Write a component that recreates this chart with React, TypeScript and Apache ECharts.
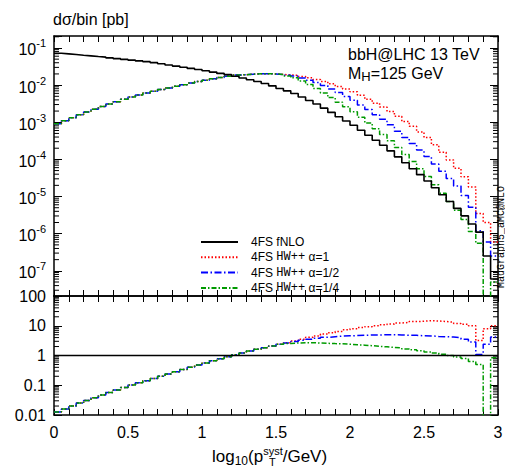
import React, { useEffect, useRef } from "react";
import * as echarts from "echarts";

const FONT = '"Liberation Sans", Arial, Helvetica, sans-serif';
const MONO = '"Liberation Mono", "DejaVu Sans Mono", monospace';

// bin edges in log10(pT/GeV)
const binEdges = [
  0, 0.05, 0.1, 0.15, 0.2, 0.25, 0.3, 0.35, 0.4, 0.45, 0.5, 0.55, 0.6, 0.65, 0.7, 0.75, 0.8, 0.85, 0.9, 0.95,
  1, 1.05, 1.1, 1.15, 1.2, 1.25, 1.3, 1.35, 1.4, 1.45, 1.5, 1.55, 1.6, 1.65, 1.7, 1.75, 1.8, 1.85, 1.9, 1.95,
  2, 2.05, 2.1, 2.15, 2.2, 2.25, 2.3, 2.35, 2.4, 2.45, 2.5, 2.55, 2.6, 2.65, 2.7, 2.75, 2.8, 2.85, 2.9, 2.95, 3,
];

const seriesNames = ["4FS fNLO", "4FS HW++ α=1", "4FS HW++ α=1/2", "4FS HW++ α=1/4"];

const fNLO = [
  0.0719, 0.0692, 0.0665, 0.0638, 0.0614, 0.059, 0.0568, 0.0542, 0.0516, 0.0493,
  0.047, 0.0449, 0.0428, 0.0403, 0.0375, 0.0349, 0.0325, 0.0303, 0.0282, 0.0262,
  0.0243, 0.0224, 0.0207, 0.0191, 0.0174, 0.0156, 0.014, 0.0125, 0.011, 0.00955,
  0.00813, 0.007, 0.00596, 0.00479, 0.00385, 0.00309, 0.0024, 0.00184, 0.00141, 0.00108,
  8.32e-4, 6.1e-4, 4.47e-4, 3.27e-4, 2.4e-4, 1.7e-4, 1.17e-4, 8.13e-5, 5.62e-5, 3.89e-5,
  2.63e-5, 1.72e-5, 1.12e-5, 7.33e-6, 4.79e-6, 3.02e-6, 1.82e-6, 1.1e-6, 2.5e-7, 6.0e-8,
];

const hwA1 = [
  9.06e-4, 1.1e-3, 1.33e-3, 1.6e-3, 1.9e-3, 2.24e-3, 2.65e-3, 3.08e-3, 3.57e-3, 4.15e-3,
  4.75e-3, 5.4e-3, 6.11e-3, 6.84e-3, 7.57e-3, 8.38e-3, 9.27e-3, 1.03e-2, 1.14e-2, 1.26e-2,
  1.36e-2, 1.48e-2, 1.6e-2, 1.74e-2, 1.86e-2, 1.91e-2, 1.97e-2, 2.03e-2, 2.02e-2, 2.0e-2,
  1.93e-2, 1.88e-2, 1.84e-2, 1.7e-2, 1.57e-2, 1.41e-2, 1.26e-2, 1.08e-2, 9.12e-3, 7.85e-3,
  6.61e-3, 5.31e-3, 4.17e-3, 3.27e-3, 2.57e-3, 1.95e-3, 1.45e-3, 1.05e-3, 7.76e-4, 5.5e-4,
  3.89e-4, 2.48e-4, 1.55e-4, 9.66e-5, 5.75e-5, 3.39e-5, 1.82e-5, 3.5e-6, 2.0e-6, 6.0e-7,
];

const hwA12 = [
  9.06e-4, 1.1e-3, 1.33e-3, 1.6e-3, 1.9e-3, 2.24e-3, 2.65e-3, 3.08e-3, 3.57e-3, 4.15e-3,
  4.75e-3, 5.4e-3, 6.11e-3, 6.84e-3, 7.57e-3, 8.38e-3, 9.27e-3, 1.03e-2, 1.14e-2, 1.26e-2,
  1.36e-2, 1.48e-2, 1.6e-2, 1.74e-2, 1.86e-2, 1.91e-2, 1.97e-2, 2.03e-2, 2.02e-2, 2.0e-2,
  1.93e-2, 1.84e-2, 1.76e-2, 1.55e-2, 1.36e-2, 1.17e-2, 9.77e-3, 7.85e-3, 6.31e-3, 4.95e-3,
  3.89e-3, 2.92e-3, 2.19e-3, 1.6e-3, 1.2e-3, 8.51e-4, 5.75e-4, 3.89e-4, 2.69e-4, 1.78e-4,
  1.2e-4, 7.5e-5, 4.79e-5, 3.05e-5, 1.91e-5, 1.07e-5, 5.13e-6, 1.2e-6, 6.0e-7, 2.5e-7,
];

const hwA14 = [
  9.06e-4, 1.1e-3, 1.33e-3, 1.6e-3, 1.9e-3, 2.24e-3, 2.65e-3, 3.08e-3, 3.57e-3, 4.15e-3,
  4.75e-3, 5.4e-3, 6.11e-3, 6.84e-3, 7.57e-3, 8.38e-3, 9.27e-3, 1.03e-2, 1.14e-2, 1.26e-2,
  1.36e-2, 1.48e-2, 1.6e-2, 1.74e-2, 1.86e-2, 1.91e-2, 1.97e-2, 2.03e-2, 2.02e-2, 2.0e-2,
  1.93e-2, 1.76e-2, 1.57e-2, 1.29e-2, 1.04e-2, 8.13e-3, 6.17e-3, 4.62e-3, 3.47e-3, 2.6e-3,
  1.91e-3, 1.36e-3, 9.55e-4, 6.68e-4, 4.68e-4, 3.16e-4, 2.09e-4, 1.35e-4, 8.71e-5, 5.62e-5,
  3.47e-5, 2.07e-5, 1.23e-5, 7.33e-6, 4.27e-6, 2.4e-6, 1.15e-6, 5.5e-7, 0, 5.0e-8,
];

const topRange = [2.1e-8, 0.21];
const ratioRange = [0.01, 100];
const xRange = [0, 3];

const colors = ["#000000", "#ff0000", "#0000ff", "#009a00"];
const dashes: any[] = ["solid", [1.5, 2], [7, 2.5, 1.5, 2.5], [5, 2, 1.5, 2]];

const EMPTY = 1e-14; // empty bins are drawn below the axis floor

function stepData(vals: number[]) {
  const pts = vals.map((v, i) => [binEdges[i], v > 0 ? v : EMPTY]);
  const last = vals[vals.length - 1];
  pts.push([binEdges[vals.length], last > 0 ? last : EMPTY]);
  return pts;
}

function minorLogTicks(lo: number, hi: number) {
  const out: number[][] = [];
  for (let d = Math.floor(Math.log10(lo)); d <= Math.ceil(Math.log10(hi)); d++) {
    for (let k = 2; k <= 9; k++) {
      const v = k * Math.pow(10, d);
      if (v > lo && v < hi) out.push([0, v]);
    }
  }
  return out;
}

export default function App() {
  const ref = useRef<HTMLDivElement>(null);
  useEffect(() => {
    if (!ref.current) return;
    const chart = echarts.init(ref.current, undefined, { renderer: "svg" });
    const all = [fNLO, hwA1, hwA12, hwA14];
    const ratios = all.map((s) => s.map((v, i) => v / fNLO[i]));

    const tickCommon = { inside: true, length: 6, lineStyle: { color: "#000", width: 1 } };
    const lineCommon = { show: true, onZero: false, lineStyle: { color: "#000", width: 1.5 } };

    const xBase = (gridIndex: number, position: string, labels: boolean) => ({
      type: "value",
      gridIndex,
      position,
      min: xRange[0],
      max: xRange[1],
      interval: 0.1,
      axisLine: lineCommon,
      axisTick: tickCommon,
      splitLine: { show: false },
      axisLabel: labels
        ? {
            show: true,
            margin: 9,
            fontFamily: FONT,
            fontSize: 16,
            color: "#000",
            formatter: (v: number) => {
              const h = v * 2;
              if (Math.abs(h - Math.round(h)) > 1e-6) return "";
              return String(Math.round(h) / 2);
            },
          }
        : { show: false },
    });

    const yBase = (gridIndex: number, position: string, range: number[], formatter: any) => ({
      type: "log",
      logBase: 10,
      gridIndex,
      position,
      min: range[0],
      max: range[1],
      axisLine: lineCommon,
      axisTick: { inside: true, length: 8, lineStyle: { color: "#000", width: 1 } },
      splitLine: { show: false },
      axisLabel: formatter
        ? {
            show: true,
            margin: 8,
            color: "#000",
            fontFamily: FONT,
            fontSize: 16,
            formatter,
            rich: {
              b: { fontFamily: FONT, fontSize: 16, lineHeight: 20, verticalAlign: "bottom", color: "#000" },
              s: { fontFamily: FONT, fontSize: 11, lineHeight: 12, verticalAlign: "top", color: "#000" },
            },
          }
        : { show: false },
    });

    const powerFmt = (v: number) => {
      const l = Math.log10(v);
      const n = Math.round(l);
      if (Math.abs(l - n) > 1e-6) return "";
      return `{b|10}{s|${n}}`;
    };
    const decimalFmt = (v: number) => {
      const l = Math.log10(v);
      const n = Math.round(l);
      if (Math.abs(l - n) > 1e-6) return "";
      return n >= 0 ? String(Math.pow(10, n)) : Math.pow(10, n).toFixed(-n);
    };

    const minorRender = (params: any, api: any) => {
      const v = api.value(1);
      const pl = api.coord([xRange[0], v]);
      const pr = api.coord([xRange[1], v]);
      return {
        type: "group",
        children: [
          { type: "line", shape: { x1: pl[0], y1: pl[1], x2: pl[0] + 5, y2: pl[1] }, style: { stroke: "#000", lineWidth: 1 } },
          { type: "line", shape: { x1: pr[0] - 5, y1: pr[1], x2: pr[0], y2: pr[1] }, style: { stroke: "#000", lineWidth: 1 } },
        ],
      };
    };

    const lineSeries: any[] = [];
    all.forEach((s, k) => {
      lineSeries.push({
        type: "line",
        name: seriesNames[k],
        xAxisIndex: 0,
        yAxisIndex: 0,
        step: "end",
        symbol: "none",
        showSymbol: false,
        clip: true,
        silent: true,
        data: stepData(s),
        itemStyle: { color: colors[k] },
        lineStyle: { color: colors[k], width: k === 0 ? 1.6 : 1.5, type: dashes[k] },
        z: k === 0 ? 5 : 3,
      });
    });
    ratios.forEach((s, k) => {
      lineSeries.push({
        type: "line",
        name: seriesNames[k],
        xAxisIndex: 2,
        yAxisIndex: 2,
        step: "end",
        symbol: "none",
        showSymbol: false,
        clip: true,
        silent: true,
        data: stepData(s),
        itemStyle: { color: colors[k] },
        lineStyle: { color: colors[k], width: k === 0 ? 1.6 : 1.5, type: dashes[k] },
        z: k === 0 ? 5 : 3,
      });
    });

    const option: any = {
      animation: false,
      backgroundColor: "#ffffff",
      grid: [
        { left: 54, top: 36, width: 444, height: 260, outerBoundsMode: "none", containLabel: false },
        { left: 54, top: 296, width: 444, height: 119, outerBoundsMode: "none", containLabel: false },
      ],
      xAxis: [xBase(0, "bottom", false), xBase(0, "top", false), xBase(1, "bottom", true), xBase(1, "top", false)],
      yAxis: [
        yBase(0, "left", topRange, powerFmt),
        yBase(0, "right", topRange, null),
        yBase(1, "left", ratioRange, decimalFmt),
        yBase(1, "right", ratioRange, null),
      ],
      legend: {
        show: true,
        orient: "vertical",
        left: 195,
        top: 231,
        itemWidth: 37,
        itemHeight: 12,
        itemGap: 3.3,
        selectedMode: false,
        itemStyle: { opacity: 0 },
        data: seriesNames.map((n) => ({ name: n, itemStyle: { opacity: 0 } })),
        textStyle: {
          fontFamily: FONT,
          fontSize: 12,
          color: "#000",
          padding: [0, 0, 0, 8],
          rich: {
            s: { fontFamily: FONT, fontSize: 12, color: "#000" },
            m: { fontFamily: MONO, fontSize: 12, color: "#000" },
          },
        },
        formatter: (name: string) => {
          if (name.indexOf("HW++") >= 0) {
            const tail = name.split("HW++ ")[1];
            return `{s|4FS }{m|HW++}{s| ${tail}}`;
          }
          return `{s|${name}}`;
        },
      },
      series: [
        ...lineSeries,
        {
          type: "custom",
          xAxisIndex: 0,
          yAxisIndex: 0,
          silent: true,
          clip: false,
          encode: { x: 0, y: 1 },
          data: minorLogTicks(topRange[0], topRange[1]),
          renderItem: minorRender,
        },
        {
          type: "custom",
          xAxisIndex: 2,
          yAxisIndex: 2,
          silent: true,
          clip: false,
          encode: { x: 0, y: 1 },
          data: minorLogTicks(ratioRange[0], ratioRange[1]),
          renderItem: minorRender,
        },
      ],
      graphic: [
        { type: "text", left: 53, top: 11, style: { text: "dσ/bin [pb]", font: `16px ${FONT}`, fill: "#000" } },
        { type: "text", left: 348, top: 46, style: { text: "bbH@LHC 13 TeV", font: `16px ${FONT}`, fill: "#000" } },
        {
          type: "text",
          left: 348,
          top: 65,
          style: {
            text: "{a|M}{b|H}{a|=125 GeV}",
            rich: {
              a: { fontFamily: FONT, fontSize: 16, lineHeight: 20, verticalAlign: "middle", fill: "#000" },
              b: { fontFamily: FONT, fontSize: 13, lineHeight: 20, verticalAlign: "bottom", fill: "#000" },
            },
          },
        },
        {
          type: "text",
          x: 501,
          y: 237,
          rotation: Math.PI / 2,
          style: { text: "MadGraph5_aMC@NLO", font: `10px ${MONO}`, fill: "#000", align: "center", verticalAlign: "middle" },
        },
        {
          type: "text",
          left: 212,
          top: 445,
          style: {
            text: "{a|log}{d|10}{a|(p}{u|syst}{a|/GeV)}",
            rich: {
              a: { fontFamily: FONT, fontSize: 17, lineHeight: 22, verticalAlign: "middle", fill: "#000" },
              d: { fontFamily: FONT, fontSize: 12, lineHeight: 22, verticalAlign: "bottom", fill: "#000" },
              u: { fontFamily: FONT, fontSize: 11, lineHeight: 22, verticalAlign: "top", fill: "#000" },
            },
          },
        },
        { type: "text", left: 269, top: 456, style: { text: "T", font: `11px ${FONT}`, fill: "#000" } },
      ],
    };
    chart.setOption(option);
    return () => chart.dispose();
  }, []);
  return (
    <div
      ref={ref}
      style={{ position: "fixed", left: 0, top: 0, width: 505, height: 469, background: "#fff" }}
    />
  );
}
